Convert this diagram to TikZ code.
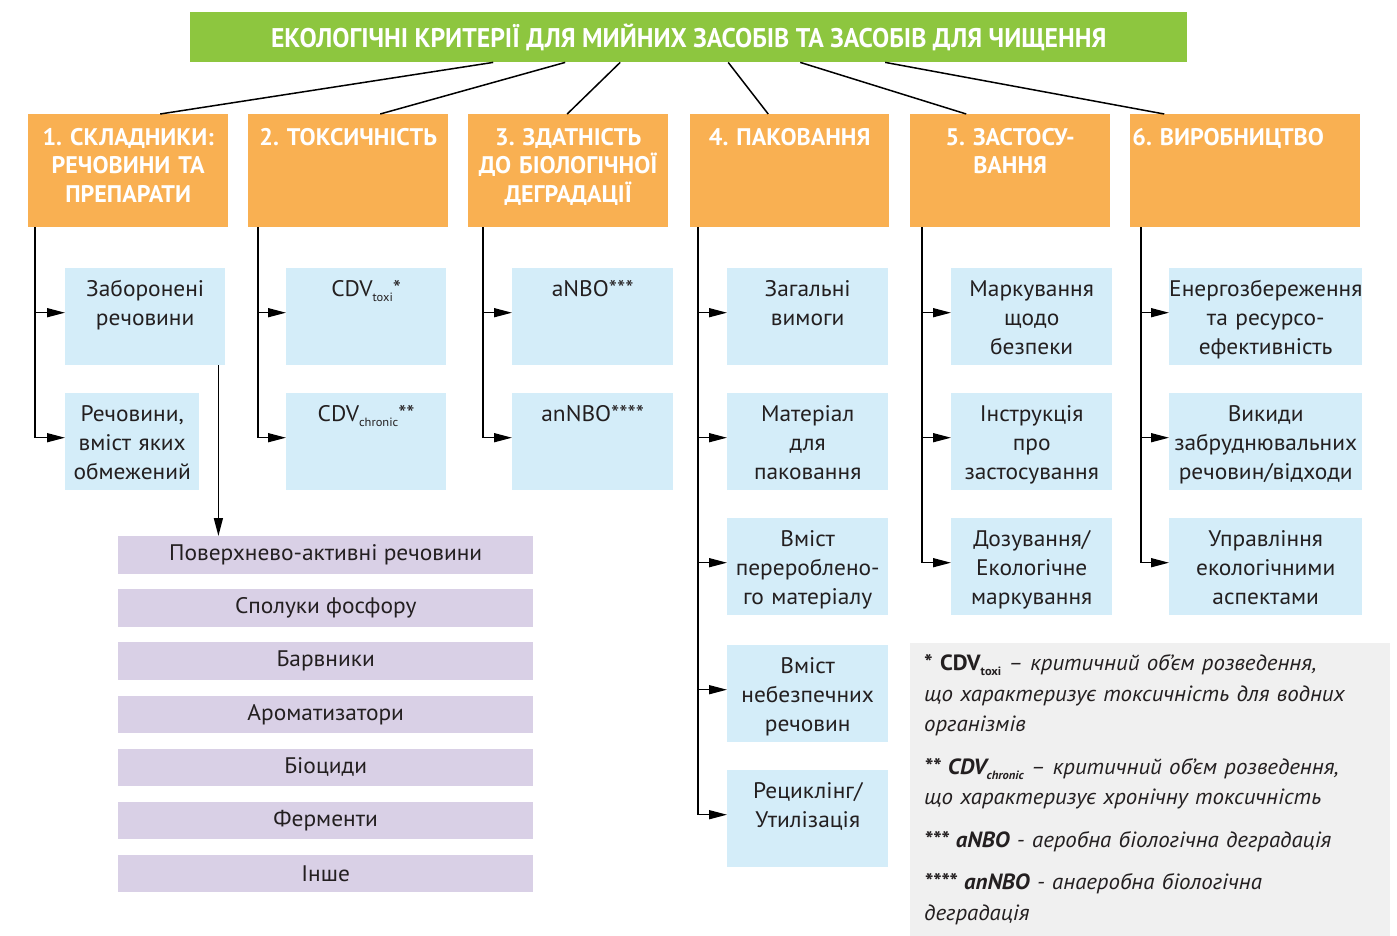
\documentclass[tikz,border=0pt]{standalone}
\usepackage{fontspec}
\setmainfont{PT Sans}[FakeStretch=1.04]
\newfontfamily\headfont{PT Sans}
\newfontfamily\titlefont{PT Sans}[FakeStretch=0.95]
\usetikzlibrary{arrows.meta}

\definecolor{titlegreen}{HTML}{8DC63F}
\definecolor{headorange}{HTML}{F9B052}
\definecolor{itemblue}{HTML}{D4EDF9}
\definecolor{grouppurple}{HTML}{D9D0E6}
\definecolor{legendgrey}{HTML}{F0F0F0}
\definecolor{textdark}{HTML}{231F20}

\newcommand{\lowidx}[1]{\raisebox{-5pt}{\fontsize{12}{12}\selectfont #1}}

\begin{document}
\frenchspacing
\begin{tikzpicture}[x=1pt, y=-1pt,
    title/.style={fill=titlegreen, anchor=north west, minimum width=997pt, minimum height=50pt,
      inner sep=0pt, text=white, font=\titlefont\bfseries\fontsize{27}{30}\selectfont},
    head/.style={fill=headorange, anchor=north west, inner sep=0pt, text height=31pt, text depth=82pt,
      align=center, text=white, font=\headfont\bfseries\fontsize{24}{28.5}\selectfont},
    item/.style={fill=itemblue, anchor=north west, inner sep=0pt, text height=28pt, text depth=69pt,
      align=center, text=textdark, font=\fontsize{22.5}{29}\selectfont},
    group/.style={fill=grouppurple, anchor=north west, minimum width=415pt, minimum height=37.5pt,
      inner sep=0pt, text=textdark, font=\fontsize{22.5}{25}\selectfont},
    legend/.style={fill=legendgrey, anchor=north west, minimum width=480pt, minimum height=293pt,
      text width=452pt, inner xsep=14pt, align=left, text=textdark,
      font=\itshape\fontsize{22}{30.5}\selectfont},
    conn/.style={line width=1.5pt},
    arr/.style={line width=1.5pt, -{Triangle[length=18pt, width=9pt]}}]

  \useasboundingbox (0,0) rectangle (1397,936);

  % Title
  \node[title] (title) at (190,12) {ЕКОЛОГІЧНІ КРИТЕРІЇ ДЛЯ МИЙНИХ ЗАСОБІВ ТА ЗАСОБІВ ДЛЯ ЧИЩЕННЯ};

  % Criteria
  \node[head, text width=200pt] (h1) at (28,114) {1. СКЛАДНИКИ:\\РЕЧОВИНИ ТА\\ПРЕПАРАТИ};
  \node[head, text width=200pt] (h2) at (248,114) {2. ТОКСИЧНІСТЬ};
  \node[head, text width=200pt] (h3) at (468,114) {3. ЗДАТНІСТЬ\\ДО БІОЛОГІЧНОЇ\\ДЕГРАДАЦІЇ};
  \node[head, text width=199pt] (h4) at (690,114) {4. ПАКОВАННЯ};
  \node[head, text width=200pt] (h5) at (910,114) {5. ЗАСТОСУ-\\ВАННЯ};
  \node[head, text width=230pt] (h6) at (1130,114) {6. ВИРОБНИЦТВО\hspace*{34pt}};

  \draw[conn] ([xshift=-195.5pt]title.south) -- ([xshift=32pt]h1.north);
  \draw[conn] ([xshift=-123.5pt]title.south) -- ([xshift=32pt]h2.north);
  \draw[conn] ([xshift=-68.5pt]title.south) -- ([xshift=-1pt]h3.north);
  \draw[conn] ([xshift=39.5pt]title.south) -- ([xshift=-21.5pt]h4.north);
  \draw[conn] ([xshift=111.5pt]title.south) -- ([xshift=-44pt]h5.north);
  \draw[conn] ([xshift=196.5pt]title.south) -- ([xshift=-81pt]h6.north);

  % Column 1
  \node[item, text width=160pt] (b11) at (65,268) {Заборонені\\речовини};
  \node[item, text width=134pt] (b12) at (65,393) {Речовини,\\вміст яких\\обмежений};

  % Column 2
  \node[item, text width=160pt] (b21) at (286,268) {CDV\lowidx{toxi}*};
  \node[item, text width=160pt] (b22) at (286,393) {CDV\lowidx{chronic}**};

  % Column 3
  \node[item, text width=161pt] (b31) at (512,268) {aNBO***};
  \node[item, text width=161pt] (b32) at (512,393) {anNBO****};

  % Column 4
  \node[item, text width=161pt] (b41) at (727,268) {Загальні\\вимоги};
  \node[item, text width=161pt] (b42) at (727,393) {Матеріал\\для\\паковання};
  \node[item, text width=161pt] (b43) at (727,518) {Вміст\\перероблено-\\го матеріалу};
  \node[item, text width=161pt] (b44) at (727,645) {Вміст\\небезпечних\\речовин};
  \node[item, text width=161pt] (b45) at (727,770) {Рециклінг/\\Утилізація};

  % Column 5
  \node[item, text width=161pt] (b51) at (951,268) {Маркування\\щодо\\безпеки};
  \node[item, text width=161pt] (b52) at (951,393) {Інструкція\\про\\застосування};
  \node[item, text width=161pt] (b53) at (951,518) {Дозування/\\Екологічне\\маркування};

  % Column 6
  \node[item, text width=193pt] (b61) at (1169,268) {Енергозбереження\\та ресурсо-\\ефективність};
  \node[item, text width=193pt] (b62) at (1169,393) {Викиди\\забруднювальних\\речовин/відходи};
  \node[item, text width=193pt] (b63) at (1169,518) {Управління\\екологічними\\аспектами};

  % Branches
  \foreach \b in {b11,b12}
    \draw[arr] ([xshift=7pt]h1.south west) |- ([yshift=4pt]\b.west);
  \foreach \b in {b21,b22}
    \draw[arr] ([xshift=10pt]h2.south west) |- ([yshift=4pt]\b.west);
  \foreach \b in {b31,b32}
    \draw[arr] ([xshift=15pt]h3.south west) |- ([yshift=4pt]\b.west);
  \foreach \b in {b41,b42,b43,b44,b45}
    \draw[arr] ([xshift=8pt]h4.south west) |- ([yshift=4pt]\b.west);
  \foreach \b in {b51,b52,b53}
    \draw[arr] ([xshift=12pt]h5.south west) |- ([yshift=4pt]\b.west);
  \foreach \b in {b61,b62,b63}
    \draw[arr] ([xshift=11pt]h6.south west) |- ([yshift=4pt]\b.west);

  % Substance groups
  \foreach \txt [count=\i] in {Поверхнево-активні речовини, Сполуки фосфору, Барвники,
      Ароматизатори, Біоциди, Ферменти, Інше}
    \node[group] (p\i) at (118,{536+53.1*(\i-1)}) {\txt};

  \draw[arr] ([xshift=-7pt]b11.south east) -- ([xshift=-7pt]b11.south east |- p1.north);

  % Legend
  \node[legend] (legend) at (910,643) {%
    {\upshape\bfseries * CDV\lowidx{toxi}} – критичний об’єм розведення,\\
    що характеризує токсичність для водних\\
    організмів\\[12pt]
    {\bfseries ** CDV\lowidx{chronic}} – критичний об’єм розведення,\\
    що характеризує хронічну токсичність\\[12pt]
    {\bfseries *** aNBO} - аеробна біологічна деградація\\[12pt]
    {\bfseries **** anNBO} - анаеробна біологічна\\
    деградація};

\end{tikzpicture}
\end{document}
